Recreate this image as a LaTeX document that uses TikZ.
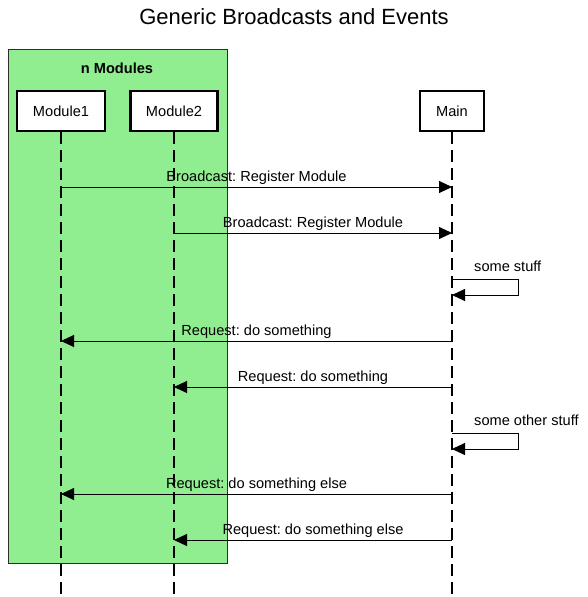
\documentclass[tikz,border=0pt]{standalone}
\usepackage{fontspec}
\setmainfont{Liberation Sans}
\usepackage{tikz}
\usetikzlibrary{arrows.meta}
\usetikzlibrary{positioning}

\definecolor{grpgreen}{RGB}{144,238,144}
\definecolor{grpborder}{RGB}{45,45,45}
\frenchspacing

\begin{document}
\begin{tikzpicture}[x=1pt,y=-1pt,>={Triangle[length=13pt,width=12pt]},
    actor/.style={draw,line width=2.5pt,fill=white,minimum width=88pt,minimum height=40pt,
      inner sep=0pt,font=\fontsize{14.6}{17}\selectfont},
    life/.style={line width=1.3pt,dash pattern=on 12pt off 6pt},
    msg/.style={line width=1pt,->},
    lbl/.style={anchor=base,yshift=6pt,inner sep=0pt,font=\fontsize{14.6}{17}\selectfont},
    note/.style={anchor=base west,inner sep=0pt,font=\fontsize{14.6}{17}\selectfont}]
    \useasboundingbox (0,0) rectangle (588,597);
    
    \node[anchor=base,font=\fontsize{22}{26}\selectfont] (title) at (294,24) {Generic Broadcasts and Events};
    
    \draw[fill=grpgreen,draw=grpborder,line width=1pt] (8,49) rectangle (227,563);
    \node[anchor=base,font=\fontsize{14.6}{17}\selectfont\bfseries] (group) at (117,73) {n Modules};
    
    \node[actor] (mod1) at (61,111) {Module1};
    \node[actor,minimum width=87pt] (mod2) at (174,111) {Module2};
    \node[actor,minimum width=64pt] (main) at (452,111) {Main};
    
    \path (61,597) coordinate (mod1-end) (174,597) coordinate (mod2-end) (452,597) coordinate (main-end);
    \draw[life] (mod1.south) -- (mod1-end);
    \draw[life] (mod2.south) -- (mod2-end);
    \draw[life] (main.south) -- (main-end);
    
    \draw[msg] (mod1.south |- 0,187) -- node[lbl]{Broadcast: Register Module} (main.south |- 0,187);
    \draw[msg] (mod2.south |- 0,233) -- node[lbl]{Broadcast: Register Module} (main.south |- 0,233);
    
    \draw[msg] (main.south |- 0,279) -- ++(66,0) -- ++(0,16) -- (main.south |- 0,295);
    \node[note] (stuff1) at (474,271) {some stuff};
    
    \draw[msg] (main.south |- 0,341) -- node[lbl]{Request: do something} (mod1.south |- 0,341);
    \draw[msg] (main.south |- 0,387) -- node[lbl]{Request: do something} (mod2.south |- 0,387);
    
    \draw[msg] (main.south |- 0,433) -- ++(66,0) -- ++(0,16) -- (main.south |- 0,449);
    \node[note] (stuff2) at (474,425) {some other stuff};
    
    \draw[msg] (main.south |- 0,494) -- node[lbl]{Request: do something else} (mod1.south |- 0,494);
    \draw[msg] (main.south |- 0,540) -- node[lbl]{Request: do something else} (mod2.south |- 0,540);
    
\end{tikzpicture}
\end{document}
